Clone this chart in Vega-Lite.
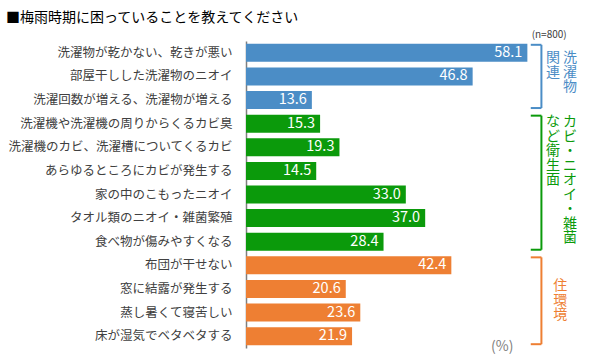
{
 "$schema": "https://vega.github.io/schema/vega-lite/v6.json",
 "width": 339, "height": 307,
 "autosize": "none",
 "padding": {"left": 246, "top": 41, "right": 15, "bottom": 13},
 "title": {"text": "■梅雨時期に困っていることを教えてください", "anchor": "start", "frame": "group", "dx": -240, "offset": 5, "fontSize": 14, "font": "Noto Sans CJK JP", "fontWeight": "normal", "color": "#000000"},
 "config": {"view": {"stroke": null}, "font": "Noto Sans CJK JP"},
 "datasets": {
  "items": [
   {"label": "洗濯物が乾かない、乾きが悪い", "value": 58.1, "group": "洗濯物関連"},
   {"label": "部屋干しした洗濯物のニオイ", "value": 46.8, "group": "洗濯物関連"},
   {"label": "洗濯回数が増える、洗濯物が増える", "value": 13.6, "group": "洗濯物関連"},
   {"label": "洗濯機や洗濯機の周りからくるカビ臭", "value": 15.3, "group": "衛生面"},
   {"label": "洗濯機のカビ、洗濯槽についてくるカビ", "value": 19.3, "group": "衛生面"},
   {"label": "あらゆるところにカビが発生する", "value": 14.5, "group": "衛生面"},
   {"label": "家の中のこもったニオイ", "value": 33.0, "group": "衛生面"},
   {"label": "タオル類のニオイ・雑菌繁殖", "value": 37.0, "group": "衛生面"},
   {"label": "食べ物が傷みやすくなる", "value": 28.4, "group": "衛生面"},
   {"label": "布団が干せない", "value": 42.4, "group": "住環境"},
   {"label": "窓に結露が発生する", "value": 20.6, "group": "住環境"},
   {"label": "蒸し暑くて寝苦しい", "value": 23.6, "group": "住環境"},
   {"label": "床が湿気でベタベタする", "value": 21.9, "group": "住環境"}
  ],
  "brackets": [
   {"group": "洗濯物関連", "first": "洗濯物が乾かない、乾きが悪い", "last": "洗濯回数が増える、洗濯物が増える"},
   {"group": "衛生面", "first": "洗濯機や洗濯機の周りからくるカビ臭", "last": "食べ物が傷みやすくなる"},
   {"group": "住環境", "first": "布団が干せない", "last": "床が湿気でベタベタする"}
  ],
  "notes": [
   {"group": "洗濯物関連", "row": "洗濯物が乾かない、乾きが悪い", "col": 66.9, "text": "洗\n濯\n物", "shift": 9},
   {"group": "洗濯物関連", "row": "洗濯物が乾かない、乾きが悪い", "col": 63.4, "text": "関\n連", "shift": 9},
   {"group": "衛生面", "row": "洗濯機や洗濯機の周りからくるカビ臭", "col": 66.9, "text": "カ\nビ\n・\nニ\nオ\nイ\n・\n雑\n菌", "shift": 2},
   {"group": "衛生面", "row": "洗濯機や洗濯機の周りからくるカビ臭", "col": 63.4, "text": "な\nど\n衛\n生\n面", "shift": 2},
   {"group": "住環境", "row": "窓に結露が発生する", "col": 64.9, "text": "住\n環\n境", "shift": 1}
  ]
 },
 "layer": [
  {
   "data": {"name": "items"},
   "mark": {"type": "bar", "height": 18},
   "encoding": {
    "y": {"field": "label", "type": "nominal", "sort": null,
          "scale": {"domain": ["洗濯物が乾かない、乾きが悪い","部屋干しした洗濯物のニオイ","洗濯回数が増える、洗濯物が増える","洗濯機や洗濯機の周りからくるカビ臭","洗濯機のカビ、洗濯槽についてくるカビ","あらゆるところにカビが発生する","家の中のこもったニオイ","タオル類のニオイ・雑菌繁殖","食べ物が傷みやすくなる","布団が干せない","窓に結露が発生する","蒸し暑くて寝苦しい","床が湿気でベタベタする"]},
          "axis": {"title": null, "ticks": false, "labelFontSize": 12.5, "labelColor": "#404040", "labelPadding": 14, "labelLimit": 400, "domainColor": "#7f7f7f", "domainWidth": 1.5}},
    "x": {"field": "value", "type": "quantitative", "scale": {"domain": [0, 70], "nice": false}, "axis": null},
    "color": {"field": "group", "type": "nominal", "legend": null,
              "scale": {"domain": ["洗濯物関連", "衛生面", "住環境"], "range": ["#4b8dc6", "#0b9a0b", "#ee7f33"]}}
   }
  },
  {
   "data": {"name": "items"},
   "mark": {"type": "text", "align": "right", "baseline": "middle", "dx": -5, "fontSize": 14.5, "color": "#ffffff"},
   "encoding": {
    "y": {"field": "label", "type": "nominal"},
    "x": {"field": "value", "type": "quantitative"},
    "text": {"field": "value", "type": "quantitative", "format": ".1f"}
   }
  },
  {
   "data": {"name": "brackets"},
   "mark": {"type": "rule", "strokeWidth": 2, "yOffset": -8, "y2Offset": 8},
   "encoding": {
    "y": {"field": "first", "type": "nominal"},
    "y2": {"field": "last"},
    "x": {"datum": 61},
    "color": {"field": "group", "type": "nominal"}
   }
  },
  {
   "data": {"name": "brackets"},
   "mark": {"type": "rule", "strokeWidth": 2, "yOffset": -8},
   "encoding": {
    "y": {"field": "first", "type": "nominal"},
    "x": {"datum": 58.8},
    "x2": {"datum": 61},
    "color": {"field": "group", "type": "nominal"}
   }
  },
  {
   "data": {"name": "brackets"},
   "mark": {"type": "rule", "strokeWidth": 2, "yOffset": 8},
   "encoding": {
    "y": {"field": "last", "type": "nominal"},
    "x": {"datum": 58.8},
    "x2": {"datum": 61},
    "color": {"field": "group", "type": "nominal"}
   }
  },
  {
   "data": {"name": "notes"},
   "mark": {"type": "text", "align": "center", "baseline": "top", "lineBreak": "\n", "fontSize": 14, "lineHeight": 14.5},
   "encoding": {
    "y": {"field": "row", "type": "nominal"},
    "yOffset": {"field": "shift", "type": "quantitative", "scale": null},
    "x": {"field": "col", "type": "quantitative"},
    "text": {"field": "text"},
    "color": {"field": "group", "type": "nominal"}
   }
  },
  {
   "data": {"values": [{"t": "(n=800)"}]},
   "mark": {"type": "text", "align": "center", "baseline": "middle", "fontSize": 10, "color": "#404040", "yOffset": -18},
   "encoding": {
    "y": {"datum": "洗濯物が乾かない、乾きが悪い"},
    "x": {"datum": 62.6},
    "text": {"field": "t"}
   }
  },
  {
   "data": {"values": [{"t": "(%)"}]},
   "mark": {"type": "text", "align": "center", "baseline": "middle", "fontSize": 14, "color": "#7f7f7f", "yOffset": 11},
   "encoding": {
    "y": {"datum": "床が湿気でベタベタする"},
    "x": {"datum": 52.9},
    "text": {"field": "t"}
   }
  }
 ]
}
